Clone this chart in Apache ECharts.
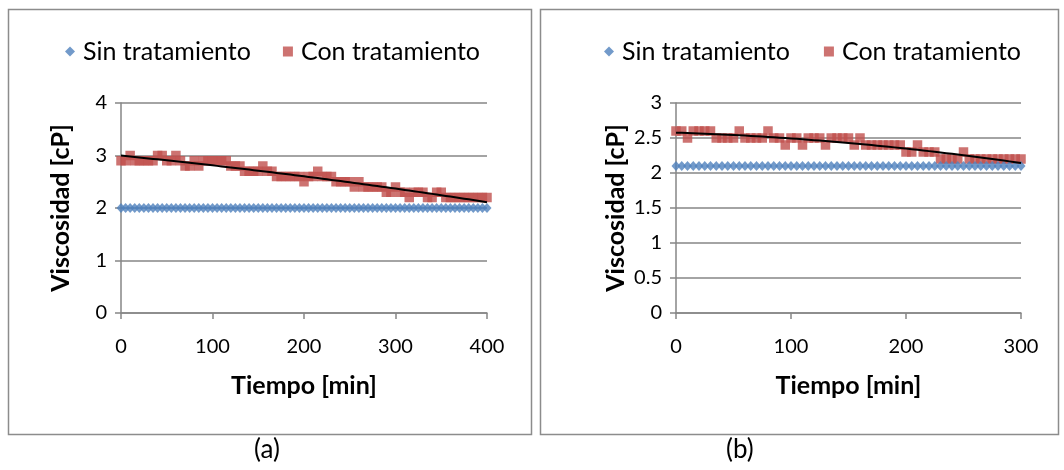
<!DOCTYPE html>
<html>
<head>
<meta charset="utf-8">
<script src="https://cdn.jsdelivr.net/npm/echarts@6/dist/echarts.min.js"></script>
<style>
html,body{margin:0;padding:0;background:#fff;}
#c{width:1064px;height:470px;}
</style>
</head>
<body>
<div id="c"></div>
<script>
// ---------- Data ----------
const seriesNames = ['Sin tratamiento', 'Con tratamiento'];
const xAxisName = 'Tiempo [min]';
const yAxisName = 'Viscosidad [cP]';
const captions = ['(a)', '(b)'];

// Chart (a): time in minutes
const timeA = [0,5,10,15,20,25,30,35,40,45,50,55,60,65,70,75,80,85,90,95,
  100,105,110,115,120,125,130,135,140,145,150,155,160,165,170,175,180,185,190,195,
  200,205,210,215,220,225,230,235,240,245,250,255,260,265,270,275,280,285,290,295,
  300,305,310,315,320,325,330,335,340,345,350,355,360,365,370,375,380,385,390,395,400];
const sinA = [2,2,2,2,2,2,2,2,2,2,2,2,2,2,2,2,2,2,2,2,
  2,2,2,2,2,2,2,2,2,2,2,2,2,2,2,2,2,2,2,2,
  2,2,2,2,2,2,2,2,2,2,2,2,2,2,2,2,2,2,2,2,
  2,2,2,2,2,2,2,2,2,2,2,2,2,2,2,2,2,2,2,2,2];
const conA = [2.9,2.9,3.0,2.9,2.9,2.9,2.9,2.9,3.0,3.0,2.9,2.9,3.0,2.9,2.8,2.8,2.9,2.8,2.9,2.9,
  2.9,2.9,2.9,2.9,2.8,2.8,2.8,2.7,2.7,2.7,2.7,2.8,2.7,2.7,2.6,2.6,2.6,2.6,2.6,2.6,
  2.5,2.6,2.6,2.7,2.6,2.6,2.6,2.5,2.5,2.5,2.5,2.4,2.5,2.4,2.4,2.4,2.4,2.4,2.3,2.3,
  2.4,2.3,2.3,2.2,2.3,2.3,2.3,2.2,2.2,2.3,2.3,2.2,2.2,2.2,2.2,2.2,2.2,2.2,2.2,2.2,2.2];
const xTicksA = {min: 0, max: 400, interval: 100};
const yTicksA = {min: 0, max: 4, interval: 1};

// Chart (b)
const timeB = [0,5,10,15,20,25,30,35,40,45,50,55,60,65,70,75,80,85,90,95,
  100,105,110,115,120,125,130,135,140,145,150,155,160,165,170,175,180,185,190,195,
  200,205,210,215,220,225,230,235,240,245,250,255,260,265,270,275,280,285,290,295,300];
const sinB = [2.1,2.1,2.1,2.1,2.1,2.1,2.1,2.1,2.1,2.1,2.1,2.1,2.1,2.1,2.1,2.1,2.1,2.1,2.1,2.1,
  2.1,2.1,2.1,2.1,2.1,2.1,2.1,2.1,2.1,2.1,2.1,2.1,2.1,2.1,2.1,2.1,2.1,2.1,2.1,2.1,
  2.1,2.1,2.1,2.1,2.1,2.1,2.1,2.1,2.1,2.1,2.1,2.1,2.1,2.1,2.1,2.1,2.1,2.1,2.1,2.1,2.1];
const conB = [2.6,2.6,2.5,2.6,2.6,2.6,2.6,2.5,2.5,2.5,2.5,2.6,2.5,2.5,2.5,2.5,2.6,2.5,2.5,2.4,
  2.5,2.5,2.4,2.5,2.5,2.5,2.4,2.5,2.5,2.5,2.5,2.4,2.5,2.4,2.4,2.4,2.4,2.4,2.4,2.4,
  2.3,2.3,2.4,2.3,2.3,2.3,2.2,2.2,2.2,2.2,2.3,2.2,2.2,2.2,2.2,2.2,2.2,2.2,2.2,2.2,2.2];
const xTicksB = {min: 0, max: 300, interval: 100};
const yTicksB = {min: 0, max: 3, interval: 0.5};

// ---------- Helpers ----------
function pairs(xs, ys) { return xs.map((x, i) => [x, ys[i]]); }

// least-squares polynomial (order 2) trendline, as in the spreadsheet
function polyTrend(xs, ys) {
  const s = 100; // scale for stability
  let S = [0,0,0,0,0], T = [0,0,0];
  xs.forEach((x0, i) => {
    const x = x0 / s, y = ys[i];
    let p = 1;
    for (let k = 0; k < 5; k++) { S[k] += p; if (k < 3) T[k] += p * y; p *= x; }
  });
  const A = [[S[0],S[1],S[2],T[0]],[S[1],S[2],S[3],T[1]],[S[2],S[3],S[4],T[2]]];
  for (let c = 0; c < 3; c++) {
    for (let r = c + 1; r < 3; r++) {
      const f = A[r][c] / A[c][c];
      for (let k = c; k < 4; k++) A[r][k] -= f * A[c][k];
    }
  }
  const coef = [0,0,0];
  for (let r = 2; r >= 0; r--) {
    let v = A[r][3];
    for (let k = r + 1; k < 3; k++) v -= A[r][k] * coef[k];
    coef[r] = v / A[r][r];
  }
  return xs.map(x0 => { const x = x0 / s; return [x0, coef[0] + coef[1]*x + coef[2]*x*x]; });
}

const FONT = 'Lato, "Open Sans", sans-serif';
const BLUE = '#4F81BD', RED = '#C0504D', AXIS = '#868686';

function xAxisCfg(gi, t) {
  return {
    type: 'value', gridIndex: gi, min: t.min, max: t.max, interval: t.interval,
    name: xAxisName, nameLocation: 'middle', nameGap: 60,
    nameTextStyle: {fontFamily: FONT, fontSize: 25, fontWeight: 'bold', color: '#000'},
    axisLine: {show: true, lineStyle: {color: AXIS, width: 1.5}},
    axisTick: {show: true, length: 6, lineStyle: {color: AXIS, width: 1.5}},
    axisLabel: {fontFamily: FONT, fontSize: 20, color: '#000', margin: 24},
    splitLine: {show: false}
  };
}
function yAxisCfg(gi, t) {
  return {
    type: 'value', gridIndex: gi, min: t.min, max: t.max, interval: t.interval,
    name: yAxisName, nameLocation: 'middle', nameGap: 48,
    nameTextStyle: {fontFamily: FONT, fontSize: 25, fontWeight: 'bold', color: '#000'},
    axisLine: {show: true, lineStyle: {color: AXIS, width: 1.5}},
    axisTick: {show: true, length: 6, lineStyle: {color: AXIS, width: 1.5}},
    axisLabel: {fontFamily: FONT, fontSize: 20, color: '#000', margin: 14},
    splitLine: {show: true, lineStyle: {color: AXIS, width: 1.5}}
  };
}
function seriesFor(gi, time, sin, con) {
  return [
    {name: seriesNames[0], type: 'scatter', xAxisIndex: gi, yAxisIndex: gi,
     symbol: 'diamond', symbolSize: [9, 10], itemStyle: {color: BLUE},
     data: pairs(time, sin), z: 3},
    {name: seriesNames[1], type: 'scatter', xAxisIndex: gi, yAxisIndex: gi,
     symbol: 'rect', symbolSize: 9.5, itemStyle: {color: RED},
     data: pairs(time, con), z: 2},
    {name: 'trend' + gi, type: 'line', xAxisIndex: gi, yAxisIndex: gi,
     showSymbol: false, symbol: 'none', smooth: false,
     lineStyle: {color: '#000', width: 2}, data: polyTrend(time, con), z: 4,
     silent: true}
  ];
}
function legendCfg(left, gap) {
  return {
    left: left, top: 34, itemGap: gap, itemWidth: 10, itemHeight: 10,
    textStyle: {fontFamily: FONT, fontSize: 25, color: '#000', padding: [0,0,0,3]},
    data: [{name: seriesNames[0], icon: 'diamond'}, {name: seriesNames[1], icon: 'rect'}],
    selectedMode: false
  };
}
function captionCfg(left, text) {
  return {
    text: text, left: left, top: 437, padding: 0,
    textStyle: {fontFamily: FONT, fontSize: 26, fontWeight: 'normal', color: '#000'}
  };
}

const chart = echarts.init(document.getElementById('c'), null, {renderer: 'canvas'});
chart.setOption({
  animation: false,
  backgroundColor: '#fff',
  title: [captionCfg(254, captions[0]), captionCfg(726, captions[1])],
  grid: [
    {left: 121, top: 103, width: 366, height: 210},
    {left: 676, top: 103, width: 345, height: 210}
  ],
  legend: [legendCfg(60, 32), legendCfg(599, 34)],
  xAxis: [xAxisCfg(0, xTicksA), xAxisCfg(1, xTicksB)],
  yAxis: [yAxisCfg(0, yTicksA), yAxisCfg(1, yTicksB)],
  series: [].concat(seriesFor(0, timeA, sinA, conA), seriesFor(1, timeB, sinB, conB)),
  graphic: [
    {type: 'rect', silent: true, z: -1, shape: {x: 8.5, y: 9.5, width: 523, height: 425},
     style: {fill: null, stroke: '#8c8c8c', lineWidth: 1.5}},
    {type: 'rect', silent: true, z: -1, shape: {x: 540.5, y: 9.5, width: 518, height: 425},
     style: {fill: null, stroke: '#8c8c8c', lineWidth: 1.5}}
  ]
});
</script>
</body>
</html>
